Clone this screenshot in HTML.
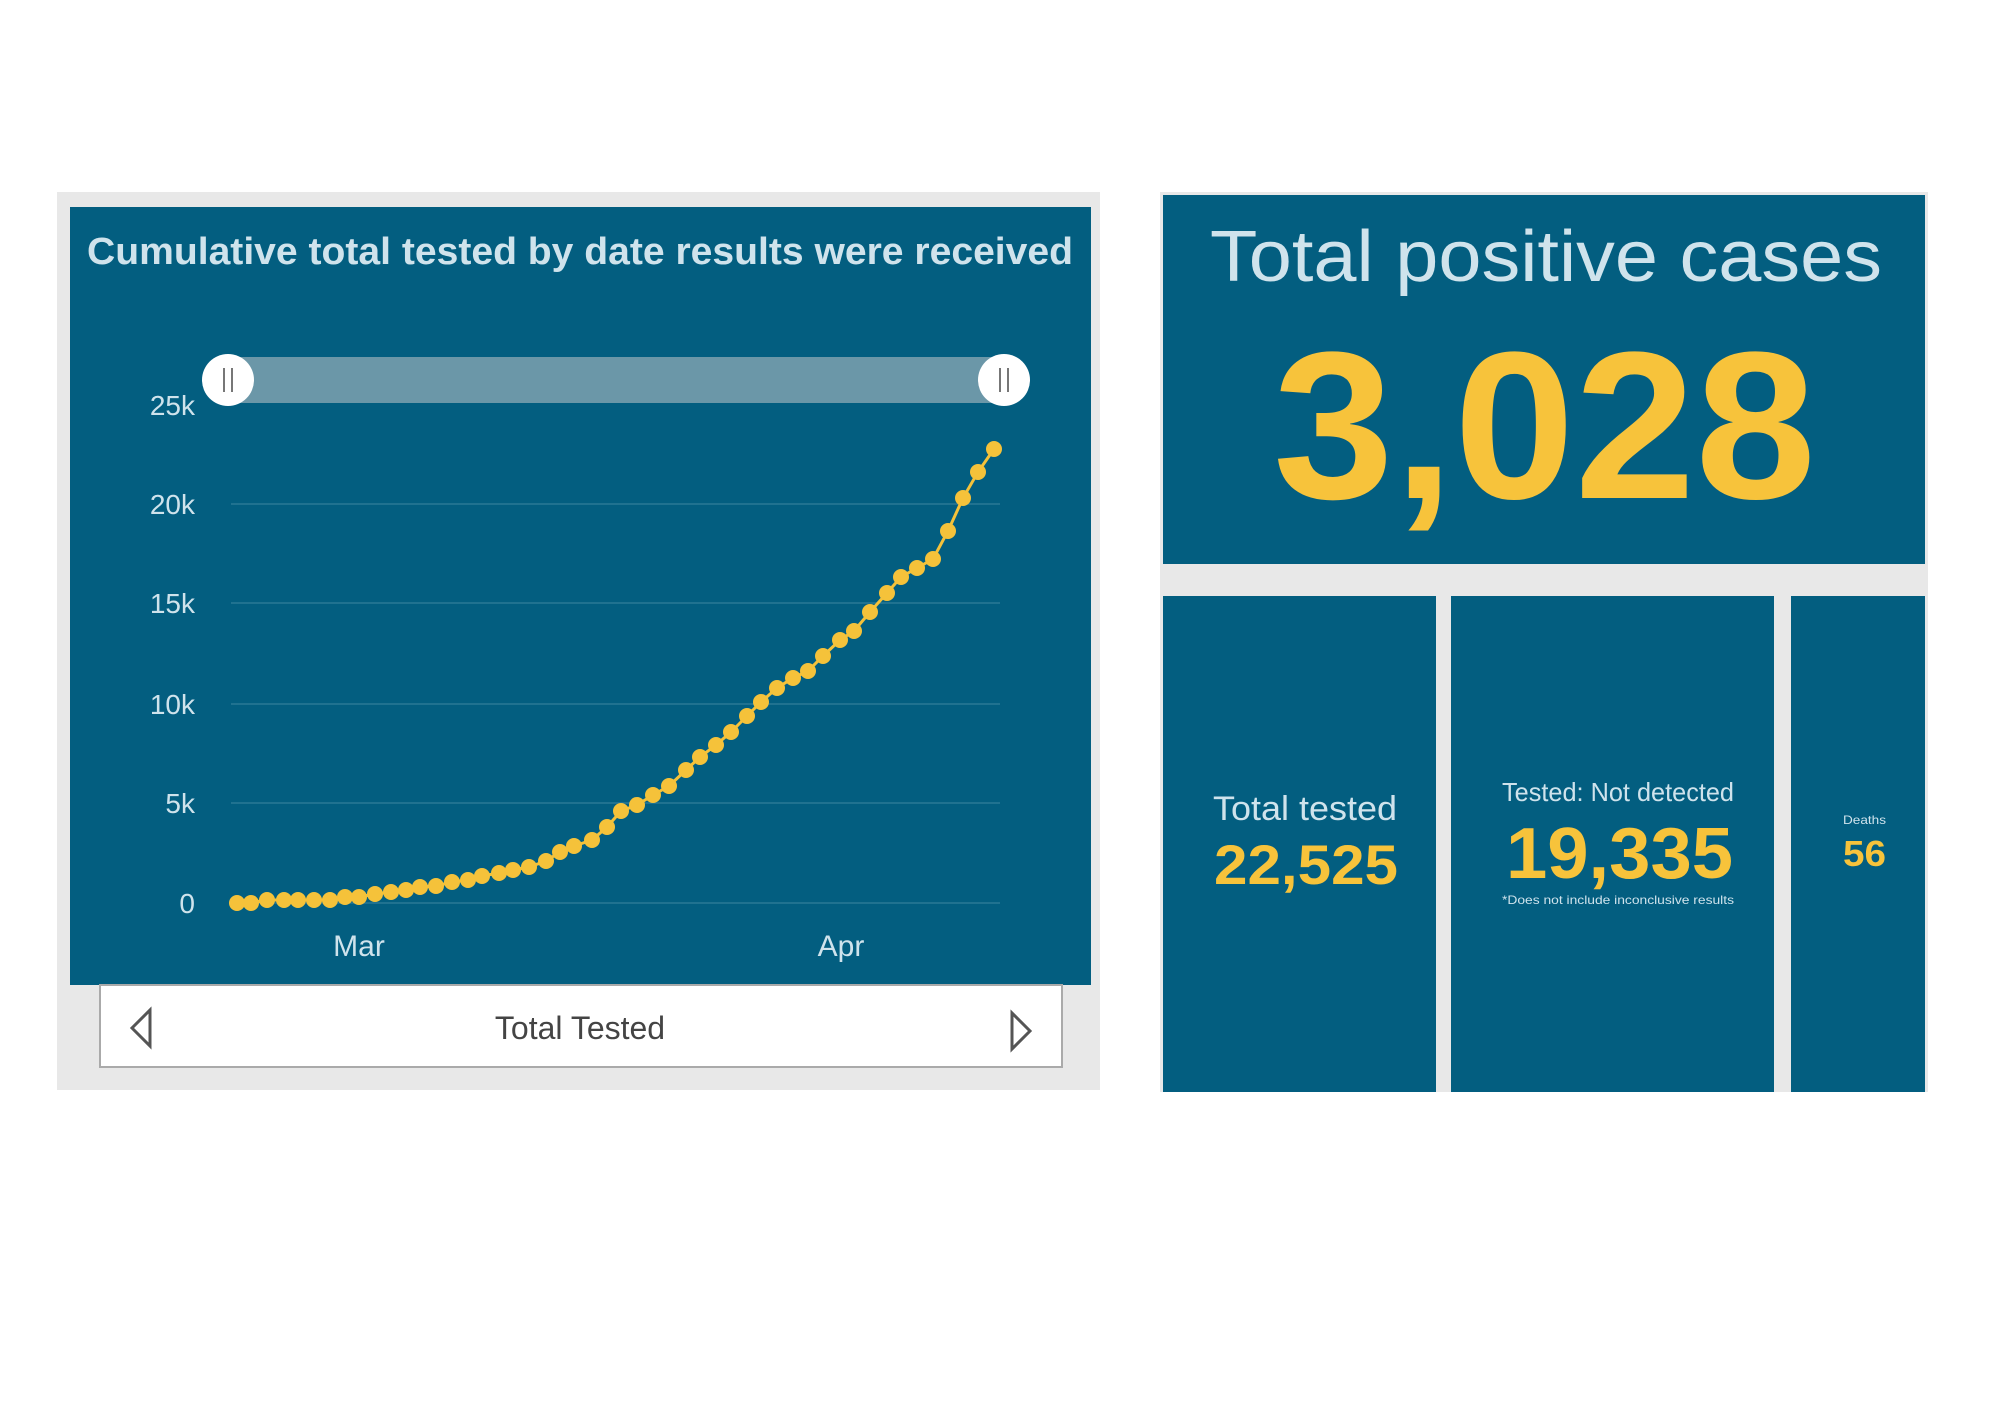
<!DOCTYPE html>
<html><head><meta charset="utf-8"><style>
html,body{margin:0;padding:0;background:#fff;width:2000px;height:1428px;overflow:hidden}
svg{display:block}
text{font-family:"Liberation Sans",sans-serif}
</style></head><body>
<svg width="2000" height="1428" viewBox="0 0 2000 1428" xmlns="http://www.w3.org/2000/svg">
<rect x="57" y="192" width="1043" height="898" fill="#e8e8e8"/>
<rect x="70" y="207" width="1021" height="778" fill="#035e80"/>
<text x="87" y="264" font-size="38" font-weight="bold" fill="#cfe3ec" textLength="986" lengthAdjust="spacingAndGlyphs">Cumulative total tested by date results were received</text>
<g stroke="#2a7896" stroke-width="1.5">
<line x1="231" y1="504" x2="1000" y2="504"/><line x1="231" y1="603" x2="1000" y2="603"/><line x1="231" y1="704" x2="1000" y2="704"/><line x1="231" y1="803" x2="1000" y2="803"/><line x1="231" y1="903" x2="1000" y2="903"/>
</g>
<g font-size="28" fill="#cfe3ec" text-anchor="end">
<text x="195" y="415">25k</text><text x="195" y="514">20k</text><text x="195" y="613">15k</text><text x="195" y="714">10k</text><text x="195" y="813">5k</text><text x="195" y="913">0</text>
</g>
<g font-size="30" fill="#cfe3ec" text-anchor="middle"><text x="359" y="956">Mar</text><text x="841" y="956">Apr</text></g>
<rect x="228" y="357" width="776" height="46" fill="#6b97a8"/>
<circle cx="228" cy="380" r="26" fill="#fff"/><circle cx="1004" cy="380" r="26" fill="#fff"/>
<g stroke="#777" stroke-width="2"><line x1="224" y1="368" x2="224" y2="392"/><line x1="232" y1="368" x2="232" y2="392"/><line x1="1000" y1="368" x2="1000" y2="392"/><line x1="1008" y1="368" x2="1008" y2="392"/></g>
<polyline fill="none" stroke="#f5c23a" stroke-width="3" points="237,903 251,903 267,900 284,900 298,900 314,900 330,900 345,897 359,897 375,894 391,892 406,890 420,887 436,886 452,882 468,880 482,876 499,873 513,870 529,867 546,861 560,852 574,846 592,840 607,827 621,811 637,805 653,795 669,786 686,770 700,757 716,745 731,732 747,716 761,702 777,688 793,678 808,671 823,656 840,640 854,631 870,612 887,593 901,577 917,568 933,559 948,531 963,498 978,472 994,449"/>
<g fill="#f5c23a">
<circle cx="237" cy="903" r="8"/><circle cx="251" cy="903" r="8"/><circle cx="267" cy="900" r="8"/><circle cx="284" cy="900" r="8"/><circle cx="298" cy="900" r="8"/><circle cx="314" cy="900" r="8"/><circle cx="330" cy="900" r="8"/><circle cx="345" cy="897" r="8"/><circle cx="359" cy="897" r="8"/><circle cx="375" cy="894" r="8"/><circle cx="391" cy="892" r="8"/><circle cx="406" cy="890" r="8"/><circle cx="420" cy="887" r="8"/><circle cx="436" cy="886" r="8"/><circle cx="452" cy="882" r="8"/><circle cx="468" cy="880" r="8"/><circle cx="482" cy="876" r="8"/><circle cx="499" cy="873" r="8"/><circle cx="513" cy="870" r="8"/><circle cx="529" cy="867" r="8"/><circle cx="546" cy="861" r="8"/><circle cx="560" cy="852" r="8"/><circle cx="574" cy="846" r="8"/><circle cx="592" cy="840" r="8"/><circle cx="607" cy="827" r="8"/><circle cx="621" cy="811" r="8"/><circle cx="637" cy="805" r="8"/><circle cx="653" cy="795" r="8"/><circle cx="669" cy="786" r="8"/><circle cx="686" cy="770" r="8"/><circle cx="700" cy="757" r="8"/><circle cx="716" cy="745" r="8"/><circle cx="731" cy="732" r="8"/><circle cx="747" cy="716" r="8"/><circle cx="761" cy="702" r="8"/><circle cx="777" cy="688" r="8"/><circle cx="793" cy="678" r="8"/><circle cx="808" cy="671" r="8"/><circle cx="823" cy="656" r="8"/><circle cx="840" cy="640" r="8"/><circle cx="854" cy="631" r="8"/><circle cx="870" cy="612" r="8"/><circle cx="887" cy="593" r="8"/><circle cx="901" cy="577" r="8"/><circle cx="917" cy="568" r="8"/><circle cx="933" cy="559" r="8"/><circle cx="948" cy="531" r="8"/><circle cx="963" cy="498" r="8"/><circle cx="978" cy="472" r="8"/><circle cx="994" cy="449" r="8"/>
</g>
<rect x="100" y="985" width="962" height="82" fill="#fff" stroke="#aaa" stroke-width="2"/>
<polygon points="150,1010 150,1046 132,1028" fill="none" stroke="#555" stroke-width="3"/>
<polygon points="1012,1013 1012,1049 1030,1031" fill="none" stroke="#555" stroke-width="3"/>
<text x="580" y="1039" font-size="32" fill="#444" text-anchor="middle">Total Tested</text>

<rect x="1160" y="192" width="768" height="900" fill="#e8e8e8"/>
<rect x="1163" y="195" width="762" height="369" fill="#035e80"/>
<rect x="1163" y="596" width="273" height="496" fill="#035e80"/>
<rect x="1451" y="596" width="323" height="496" fill="#035e80"/>
<rect x="1791" y="596" width="134" height="496" fill="#035e80"/>
<text x="1210" y="281" font-size="72" fill="#cfe3ec" textLength="672" lengthAdjust="spacingAndGlyphs">Total positive cases</text>
<text x="1273" y="498" font-size="210" font-weight="bold" fill="#f7c33b" textLength="543" lengthAdjust="spacingAndGlyphs">3,028</text>
<text x="1213" y="820" font-size="34" fill="#cfe3ec" textLength="184" lengthAdjust="spacingAndGlyphs">Total tested</text>
<text x="1214" y="884" font-size="56" font-weight="bold" fill="#f7c33b" textLength="184" lengthAdjust="spacingAndGlyphs">22,525</text>
<text x="1502" y="801" font-size="26" fill="#cfe3ec" textLength="232" lengthAdjust="spacingAndGlyphs">Tested: Not detected</text>
<text x="1506" y="878" font-size="72" font-weight="bold" fill="#f7c33b" textLength="227" lengthAdjust="spacingAndGlyphs">19,335</text>
<text x="1502" y="904" font-size="12" fill="#cfe3ec" textLength="232" lengthAdjust="spacingAndGlyphs">*Does not include inconclusive results</text>
<text x="1843" y="824" font-size="12" fill="#cfe3ec" textLength="43" lengthAdjust="spacingAndGlyphs">Deaths</text>
<text x="1843" y="866" font-size="36" font-weight="bold" fill="#f7c33b" textLength="43" lengthAdjust="spacingAndGlyphs">56</text>
</svg>
</body></html>
